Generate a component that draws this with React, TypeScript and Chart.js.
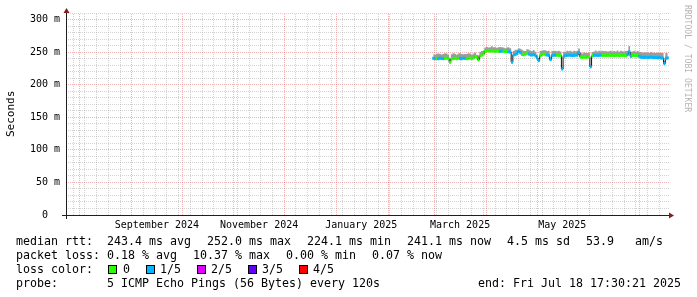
import React, { useEffect, useRef } from 'react';
import { Chart, registerables } from 'chart.js';

Chart.register(...registerables);

// ---------------- data ----------------
const firstDay = '2025-02-28';
const epochDay = '2025-03-01T00:00:00Z';
const endTime = '2025-07-18T17:30:21Z';
const spanDays = 360;
const yMax = 310;

// daily median rtt (ms)
const febMedian = [240.5];
const marMedian = [
  240.0, 240.3, 239.8, 240.6, 240.2, 239.9, 240.4, 240.8, 240.1, 234.5,
  239.6, 240.2, 240.5, 240.0, 240.7, 240.3, 239.9, 240.6, 240.2, 240.0,
  240.4, 240.8, 240.1, 241.0, 243.5, 242.0, 238.0, 244.0, 245.5, 247.0,
  251.2,
];
const aprMedian = [
  251.8, 252.0, 251.5, 251.9, 251.6, 251.3, 251.8, 251.4, 251.0, 251.6,
  251.2, 250.8, 251.0, 250.5, 250.0, 234.5, 245.5, 246.5, 247.5, 251.0,
  249.0, 246.5, 246.0, 246.8, 248.5, 247.0, 246.0, 245.5, 246.2, 244.5,
];
const mayMedian = [
  241.0, 237.0, 244.5, 246.5, 247.0, 246.0, 245.5, 245.0, 238.5, 244.5,
  245.5, 245.0, 245.3, 245.0, 244.8, 224.1, 243.5, 244.5, 245.0, 245.3,
  245.0, 244.6, 245.0, 245.3, 245.5, 249.5, 242.5, 242.0, 242.3, 242.0,
  242.5,
];
const junMedian = [
  243.0, 227.5, 244.0, 245.0, 245.3, 244.8, 245.1, 245.4, 244.9, 245.2,
  244.8, 245.0, 245.3, 244.9, 245.1, 244.7, 245.0, 245.3, 244.6, 245.0,
  245.2, 244.8, 244.6, 246.0, 250.5, 243.5, 244.8, 245.0, 244.7, 244.5,
];
const julMedian = [
  243.5, 242.3, 242.0, 241.8, 242.2, 241.5, 241.9, 242.3, 241.6, 241.4,
  241.8, 241.2, 241.5, 241.0, 240.8, 232.5, 240.5, 241.1,
];

// loss level per day (0 = none, 1 = 1/5 ...)
const febLoss = '1';
const marLoss = '1011110000000001111000000000000';
const aprLoss = '000000001100011111111000011111';
const mayLoss = '1100001111110001111111111100000';
const junLoss = '010111110000000000000001110000';
const julLoss = '111111111111111111';

// smoke spread above the median (ms)
const febSmoke = [7];
const marSmoke = [6, 7, 8, 7, 6, 7, 8, 7, 6, 4, 7, 8, 7, 6, 7, 8, 7, 6, 7, 7, 8, 7, 6, 7, 6, 4, 7, 6, 6, 5, 6];
const aprSmoke = [6, 5, 6, 7, 6, 6, 5, 6, 7, 6, 6, 5, 6, 7, 6, 3, 6, 7, 6, 5, 6, 7, 6, 5, 6, 7, 6, 6, 7, 6];
const maySmoke = [4, 3, 7, 6, 6, 7, 6, 7, 3, 7, 6, 7, 6, 7, 6, 3, 7, 6, 7, 6, 7, 6, 7, 6, 6, 6, 7, 6, 7, 7, 6];
const junSmoke = [6, 3, 6, 6, 7, 6, 7, 6, 7, 6, 7, 6, 6, 7, 6, 7, 6, 7, 6, 7, 6, 6, 7, 6, 9, 7, 6, 7, 6, 7];
const julSmoke = [7, 8, 7, 8, 7, 8, 7, 8, 7, 8, 7, 8, 7, 8, 8, 4, 8, 7];

const yTickValues = [0, 50, 100, 150, 200, 250, 300];
const xLabelDates = ['2024-09-16', '2024-11-16', '2025-01-16', '2025-03-16', '2025-05-16'];
const xLabels = ['September 2024', 'November 2024', 'January 2025', 'March 2025', 'May 2025'];

const lossColors = ['#26ff00', '#00b8ff', '#dd00ff', '#6200ff', '#ff0000'];
const lossLabels = ['0', '1/5', '2/5', '3/5', '4/5'];

const rttLine = 'median rtt:  243.4 ms avg';
const rttItems = ['252.0 ms max', '224.1 ms min', '241.1 ms now', '4.5 ms sd', '53.9   am/s'];
const lossLine = 'packet loss: 0.18 % avg';
const lossItems = ['10.37 % max', '0.00 % min', '0.07 % now'];
const probeLine = 'probe:       5 ICMP Echo Pings (56 Bytes) every 120s';
const endLine = 'end: Fri Jul 18 17:30:21 2025';

// ---------------- helpers ----------------
const DAY = 86400000;
const toDay = (s: string) => (Date.parse(s) - Date.parse(epochDay)) / DAY;

const medians = [...febMedian, ...marMedian, ...aprMedian, ...mayMedian, ...junMedian, ...julMedian];
const lossStr = febLoss + marLoss + aprLoss + mayLoss + junLoss + julLoss;
const smoke = [...febSmoke, ...marSmoke, ...aprSmoke, ...maySmoke, ...junSmoke, ...julSmoke];
const day0 = toDay(firstDay);
const days = medians.map((_, i) => day0 + i);
const xMax = toDay(endTime);
const xMin = xMax - spanDays;
const xLabelDays = xLabelDates.map(toDay);

const FONT = "'DejaVu Sans Mono', monospace";
const MINOR = 'rgba(150,150,150,0.42)';
const MAJOR = 'rgba(225,90,90,0.45)';
const AXIS = '#1f1f1f';
const ARROW = '#801f1f';

const rrdPlugin = {
  id: 'rrdGrid',
  beforeDatasetsDraw(chart: any) {
    const { ctx, chartArea: a, scales } = chart;
    const x = scales.x;
    const y = scales.y;
    ctx.save();
    ctx.lineWidth = 1;
    ctx.setLineDash([1, 1]);
    const h = (v: number, c: string) => {
      const py = Math.floor(y.getPixelForValue(v)) + 0.5;
      ctx.strokeStyle = c;
      ctx.beginPath();
      ctx.moveTo(a.left, py);
      ctx.lineTo(a.right, py);
      ctx.stroke();
    };
    const vl = (d: number, c: string) => {
      const px = Math.floor(x.getPixelForValue(d)) + 0.5;
      ctx.strokeStyle = c;
      ctx.beginPath();
      ctx.moveTo(px, a.bottom);
      ctx.lineTo(px, a.top);
      ctx.stroke();
    };
    const base = Date.parse(epochDay);
    const weeks: number[] = [];
    const months: number[] = [];
    for (let d = Math.ceil(xMin); d <= Math.floor(xMax); d++) {
      const dt = new Date(base + d * DAY);
      if (dt.getUTCDate() === 1) months.push(d);
      else if (dt.getUTCDay() === 0) weeks.push(d);
    }
    for (let v = 10; v <= yMax; v += 10) if (v % 50 !== 0) h(v, MINOR);
    weeks.forEach((d) => vl(d, MINOR));
    for (let v = 50; v <= yMax; v += 50) h(v, MAJOR);
    months.forEach((d) => vl(d, MAJOR));
    ctx.restore();
  },
  afterDatasetsDraw(chart: any) {
    const { ctx, chartArea: a, scales } = chart;
    const y0 = Math.floor(scales.y.getPixelForValue(0)) + 0.5;
    const x0 = Math.floor(a.left) + 0.5;
    ctx.save();
    ctx.setLineDash([]);
    ctx.lineWidth = 1;
    ctx.strokeStyle = AXIS;
    ctx.beginPath();
    ctx.moveTo(a.left - 4, y0);
    ctx.lineTo(a.right + 1, y0);
    ctx.moveTo(x0, a.bottom + 4);
    ctx.lineTo(x0, a.top);
    ctx.stroke();
    ctx.fillStyle = ARROW;
    ctx.beginPath();
    ctx.moveTo(x0, a.top - 5);
    ctx.lineTo(x0 - 3, a.top);
    ctx.lineTo(x0 + 3, a.top);
    ctx.closePath();
    ctx.fill();
    ctx.beginPath();
    ctx.moveTo(a.right + 5, y0);
    ctx.lineTo(a.right, y0 - 3);
    ctx.lineTo(a.right, y0 + 3);
    ctx.closePath();
    ctx.fill();
    ctx.restore();
  },
};

const legendFont: React.CSSProperties = {
  position: 'absolute',
  fontFamily: FONT,
  fontSize: '11.63px',
  lineHeight: '14px',
  whiteSpace: 'pre',
  color: '#000',
};

export default function App() {
  const ref = useRef<HTMLCanvasElement>(null);

  useEffect(() => {
    const medianPts = days.map((d, i) => ({ x: d, y: medians[i] }));
    const smokePts = days.map((d, i) => ({ x: d, y: medians[i] + (smoke[i] ?? 0) }));
    const bandPts = days.map((d, i) => ({ x: d, y: [medians[i] - 2.4, medians[i] + 2.4] }));
    const bandColors = days.map((_, i) => lossColors[Number(lossStr.charAt(i) || '0')]);

    const chart = new Chart(ref.current as HTMLCanvasElement, {
      type: 'line',
      data: {
        datasets: [
          {
            type: 'bar',
            data: bandPts as any,
            backgroundColor: bandColors,
            borderWidth: 0,
            barPercentage: 1.2,
            categoryPercentage: 1,
            order: 0,
          } as any,
          {
            data: medianPts,
            borderColor: '#111111',
            borderWidth: 1,
            pointRadius: 0,
            stepped: 'middle',
            fill: false,
            order: 1,
          },
          {
            data: smokePts,
            borderWidth: 0,
            borderColor: 'rgba(0,0,0,0)',
            backgroundColor: '#9c9c9c',
            pointRadius: 0,
            stepped: 'middle',
            fill: '+1',
            order: 2,
          },
          {
            data: medianPts,
            borderWidth: 0,
            borderColor: 'rgba(0,0,0,0)',
            pointRadius: 0,
            stepped: 'middle',
            fill: false,
            order: 3,
          },
        ],
      },
      options: {
        animation: false,
        responsive: false,
        events: [],
        layout: { padding: { top: 13, right: 28, left: 0, bottom: 0 } },
        plugins: { legend: { display: false }, tooltip: { enabled: false } },
        scales: {
          x: {
            type: 'linear',
            min: xMin,
            max: xMax,
            offset: false,
            grid: { display: false, drawTicks: false },
            border: { display: false },
            afterBuildTicks: (s: any) => {
              s.ticks = xLabelDays.map((v) => ({ value: v }));
            },
            afterFit: (s: any) => {
              s.height = 82;
            },
            ticks: {
              autoSkip: false,
              maxRotation: 0,
              padding: 4,
              color: '#000',
              font: { family: FONT, size: 10 },
              callback: (_v: any, i: number) => xLabels[i],
            },
          },
          y: {
            type: 'linear',
            min: 0,
            max: yMax,
            grid: { display: false, drawTicks: false },
            border: { display: false },
            afterBuildTicks: (s: any) => {
              s.ticks = yTickValues.map((v) => ({ value: v }));
            },
            afterFit: (s: any) => {
              s.width = 66;
            },
            ticks: {
              padding: 6,
              color: '#000',
              font: { family: FONT, size: 10 },
              callback: (v: any) => (Number(v) === 0 ? '0  ' : `${v} m`),
            },
          },
        },
      } as any,
      plugins: [rrdPlugin],
    });
    return () => chart.destroy();
  }, []);

  const rttX = [207, 307, 407, 507, 586];
  const lossX = [193, 286, 372];
  const boxX = [108, 146, 197, 248, 299];
  const boxTextX = [123, 160, 211, 262, 313];

  return (
    <div
      style={{
        position: 'fixed',
        left: 0,
        top: 0,
        width: 697,
        height: 297,
        background: '#ffffff',
        overflow: 'hidden',
      }}
    >
      <canvas
        ref={ref}
        width={697}
        height={297}
        style={{ position: 'absolute', left: 0, top: 0, width: 697, height: 297 }}
      />
      <div
        style={{
          position: 'absolute',
          left: 4,
          top: 90,
          height: 48,
          width: 13,
          writingMode: 'vertical-rl',
          transform: 'rotate(180deg)',
          fontFamily: FONT,
          fontSize: '11px',
          lineHeight: '13px',
          whiteSpace: 'pre',
          color: '#000',
          textAlign: 'center',
        }}
      >
        Seconds
      </div>
      <div
        style={{
          position: 'absolute',
          left: 683,
          top: 5,
          width: 10,
          writingMode: 'vertical-rl',
          fontFamily: FONT,
          fontSize: '8.1px',
          lineHeight: '10px',
          whiteSpace: 'pre',
          color: '#b4b4b4',
        }}
      >
        RRDTOOL / TOBI OETIKER
      </div>

      <span style={{ ...legendFont, left: 16, top: 234 }}>{rttLine}</span>
      {rttItems.map((t, i) => (
        <span key={'r' + i} style={{ ...legendFont, left: rttX[i], top: 234 }}>
          {t}
        </span>
      ))}

      <span style={{ ...legendFont, left: 16, top: 248 }}>{lossLine}</span>
      {lossItems.map((t, i) => (
        <span key={'l' + i} style={{ ...legendFont, left: lossX[i], top: 248 }}>
          {t}
        </span>
      ))}

      <span style={{ ...legendFont, left: 16, top: 262 }}>loss color:</span>
      {lossLabels.map((t, i) => (
        <React.Fragment key={'c' + i}>
          <div
            style={{
              position: 'absolute',
              left: boxX[i],
              top: 265,
              width: 7,
              height: 7,
              border: '1px solid #000',
              background: lossColors[i],
            }}
          />
          <span style={{ ...legendFont, left: boxTextX[i], top: 262 }}>{t}</span>
        </React.Fragment>
      ))}

      <span style={{ ...legendFont, left: 16, top: 276 }}>{probeLine}</span>
      <span style={{ ...legendFont, right: 697 - 681, top: 276 }}>{endLine}</span>
    </div>
  );
}
